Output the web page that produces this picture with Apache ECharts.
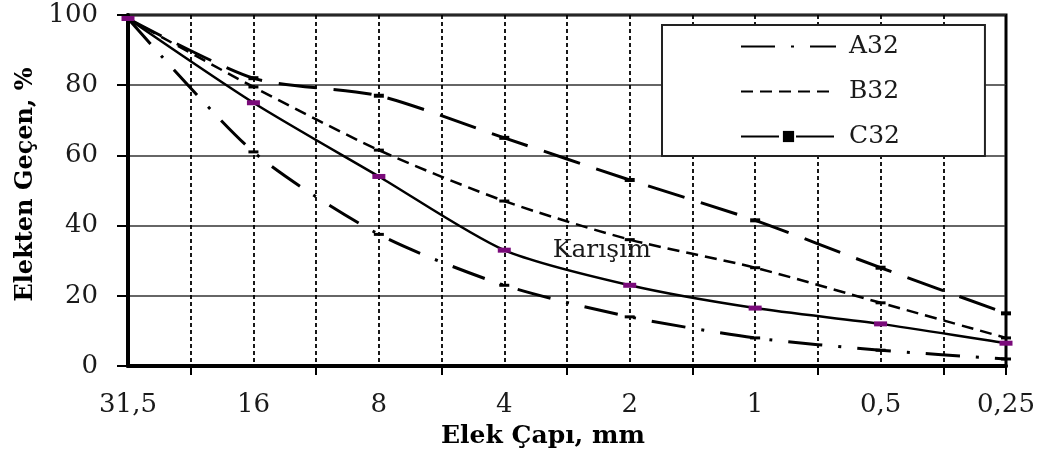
<!DOCTYPE html>
<html>
<head>
<meta charset="utf-8">
<script src="https://cdn.jsdelivr.net/npm/echarts@6/dist/echarts.min.js"></script>
<style>
html,body{margin:0;padding:0;background:#fff;}
#c{width:1043px;height:456px;}
</style>
</head>
<body>
<div id="c"></div>
<script>
var categories = ['31,5', '16', '8', '4', '2', '1', '0,5', '0,25'];
var yTicks = [0, 20, 40, 60, 80, 100];
var karisim = [99, 75, 54, 33, 23, 16.5, 12, 6.5];
var a32 = [99, 61, 37.5, 23, 14, 8, 4.5, 2];
var b32 = [99, 79.5, 61.5, 47, 36, 28, 18, 8];
var c32 = [99, 82, 77, 65, 53, 41.5, 28, 15];
var mixLabel = 'Karışım';

var FONT = 'DejaVu Serif';
function pts(arr) { return arr.map(function (v, i) { return [i, v]; }); }
var labelValues = categories.map(function (c, i) { return i; });
var tickValues = categories.slice(1).map(function (c, i) { return i + 0.5; }).concat([categories.length - 1]);

var gridBox = { left: 128, right: 37, top: 15, bottom: 90 };

var chart = echarts.init(document.getElementById('c'));
chart.setOption({
  animation: false,
  grid: [
    { left: gridBox.left, right: gridBox.right, top: gridBox.top, bottom: gridBox.bottom, show: true, borderColor: '#000', borderWidth: 3 },
    { left: gridBox.left, right: gridBox.right, top: gridBox.top, bottom: gridBox.bottom, show: false }
  ],
  legend: {
    data: [
      { name: 'A32', itemStyle: { color: 'rgba(0,0,0,0)', borderWidth: 0 } },
      { name: 'B32', itemStyle: { color: 'rgba(0,0,0,0)', borderWidth: 0 } },
      { name: 'C32' }
    ],
    orient: 'vertical',
    left: 662, top: 25,
    padding: [9, 85, 7, 78],
    itemWidth: 95, itemHeight: 14, itemGap: 20,
    backgroundColor: '#fff', borderColor: '#222', borderWidth: 2,
    textStyle: { fontFamily: FONT, fontSize: 25, color: '#1a1a1a', padding: [0, 0, 0, 8] }
  },
  xAxis: [
    {
      gridIndex: 0,
      type: 'value', min: 0, max: categories.length - 1, interval: 0.5,
      name: 'Elek Çapı, mm', nameLocation: 'middle', nameGap: 58,
      nameTextStyle: { fontFamily: FONT, fontSize: 25, fontWeight: 'bold', color: '#000', padding: [0, 48, 0, 0] },
      axisLine: { show: true, lineStyle: { color: '#000', width: 4 } },
      axisTick: { show: false },
      splitLine: { show: true, lineStyle: { color: '#000', width: 1.8, type: [4, 3] } },
      axisLabel: {
        customValues: labelValues,
        margin: 26, fontFamily: FONT, fontSize: 26, color: '#1a1a1a',
        formatter: function (v) { return categories[Math.round(v)] || ''; }
      }
    },
    {
      gridIndex: 1,
      type: 'value', min: 0, max: categories.length - 1, interval: 0.5,
      axisLine: { show: false },
      axisLabel: { show: false },
      splitLine: { show: false },
      axisTick: { show: true, inside: false, customValues: tickValues, length: 9, lineStyle: { color: '#000', width: 2 } }
    }
  ],
  yAxis: [
    {
      gridIndex: 0,
      type: 'value', min: yTicks[0], max: yTicks[yTicks.length - 1], interval: 20,
      name: 'Elekten Geçen, %', nameLocation: 'middle', nameGap: 86,
      nameTextStyle: { fontFamily: FONT, fontSize: 24, fontWeight: 'bold', color: '#000', padding: [0, 0, 0, 12] },
      axisLine: { show: true, lineStyle: { color: '#000', width: 4 } },
      axisTick: { show: false },
      splitLine: { show: true, lineStyle: { color: '#333', width: 1.5 } },
      axisLabel: { margin: 30, fontFamily: FONT, fontSize: 26, color: '#1a1a1a' }
    },
    {
      gridIndex: 1,
      type: 'value', min: yTicks[0], max: yTicks[yTicks.length - 1], interval: 20,
      axisLine: { show: false },
      axisLabel: { show: false },
      splitLine: { show: false },
      axisTick: { show: true, inside: false, length: 11, lineStyle: { color: '#000', width: 2 } }
    }
  ],
  series: [
    {
      name: 'Karışım', type: 'line', data: pts(karisim), smooth: 0.25,
      xAxisIndex: 0, yAxisIndex: 0,
      symbol: 'rect', symbolSize: [13, 5], showAllSymbol: true,
      itemStyle: { color: '#7a0a7a' },
      lineStyle: { color: '#000', width: 2.5 },
      label: {
        show: true, position: 'right', distance: 42,
        fontFamily: FONT, fontSize: 25, color: '#1a1a1a',
        formatter: function (p) { return p.dataIndex === 3 ? mixLabel : ''; }
      },
      z: 5
    },
    {
      name: 'A32', type: 'line', data: pts(a32), smooth: 0.25,
      xAxisIndex: 0, yAxisIndex: 0,
      symbol: 'rect', symbolSize: [10, 3],
      itemStyle: { color: '#000' },
      lineStyle: { color: '#000', width: 3, type: [34, 16, 3, 16] }
    },
    {
      name: 'B32', type: 'line', data: pts(b32), smooth: 0.25,
      xAxisIndex: 0, yAxisIndex: 0,
      symbol: 'rect', symbolSize: [10, 3],
      itemStyle: { color: '#000' },
      lineStyle: { color: '#000', width: 2.5, type: [12, 7] }
    },
    {
      name: 'C32', type: 'line', data: pts(c32), smooth: 0.25,
      xAxisIndex: 0, yAxisIndex: 0,
      symbol: 'rect', symbolSize: [10, 4],
      itemStyle: { color: '#000' },
      lineStyle: { color: '#000', width: 3, type: [38, 17] }
    }
  ]
});
</script>
</body>
</html>
